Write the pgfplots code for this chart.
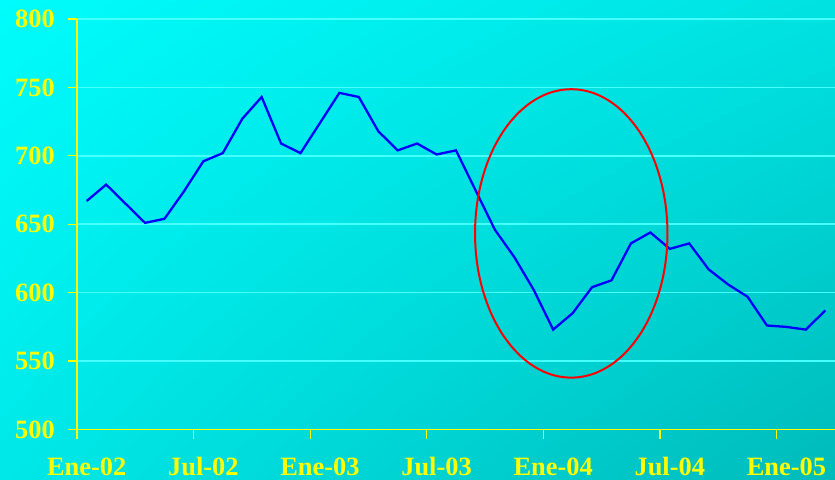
\documentclass[border=0pt]{standalone}
\usepackage{fontspec}
\setmainfont{Liberation Serif}
\usepackage{pgfplots}
\pgfplotsset{compat=1.18}
\usetikzlibrary{shadings}

\definecolor{bgUL}{RGB}{0,252,252}
\definecolor{bgUR}{RGB}{0,226,226}
\definecolor{bgLL}{RGB}{0,232,232}
\definecolor{bgLR}{RGB}{0,186,186}
\definecolor{gridcyan}{RGB}{70,255,255}
\definecolor{labelyellow}{RGB}{255,255,0}

\begin{document}
\begin{tikzpicture}
% page area and the diagonal teal background
\path[use as bounding box] (-77bp,-50.5bp) rectangle (758bp,429.5bp);
\shade[upper left=bgUL, upper right=bgUR, lower left=bgLL, lower right=bgLR]
  (-77bp,-50.5bp) rectangle (758bp,429.5bp);
\begin{axis}[
  at={(0,0)}, anchor=south west,
  scale only axis, width=758bp, height=410.5bp,
  xmin=-0.5, xmax=38.5, ymin=500, ymax=800,
  axis lines*=left,
  axis line style={labelyellow, line width=1.2bp},
  xtick={-0.5,5.5,11.5,17.5,23.5,29.5,35.5},
  xticklabels={Ene-02,Jul-02,Ene-03,Jul-03,Ene-04,Jul-04,Ene-05},
  ytick={550,600,650,700,750,800},
  extra y ticks={500},
  extra tick style={grid=none},
  tick align=outside, major tick length=9bp,
  tick style={labelyellow, line width=1.2bp},
  ymajorgrids, grid style={gridcyan, line width=1.5bp},
  /pgf/number format/assume math mode=true,
  ticklabel style={font=\fontsize{26.5}{26.5}\selectfont\bfseries, text=labelyellow, inner sep=0pt},
  yticklabel style={anchor=east, xshift=-13bp},
  xticklabel style={anchor=base, yshift=-37bp, xshift=9.72bp},
]
% monthly index, Jan 2002 - Mar 2005
\addplot[color=blue, line width=2.3bp, mark=none] table[x=m, y=v] {
m v
0 667
1 679
2 665
3 651
4 654
5 674
6 696
7 702
8 727
9 743
10 709
11 702
12 724
13 746
14 743
15 718
16 704
17 709
18 701
19 704
20 675
21 646
22 626
23 602
24 573
25 585
26 604
27 609
28 636
29 644
30 632
31 636
32 617
33 606
34 597
35 576
36 575
37 573
38 587
};
% highlighted dip around early 2004
\draw[red, line width=2bp] (axis cs:24.93,643.3) ellipse [x radius=4.95, y radius=105.4];
\end{axis}
\end{tikzpicture}
\end{document}
